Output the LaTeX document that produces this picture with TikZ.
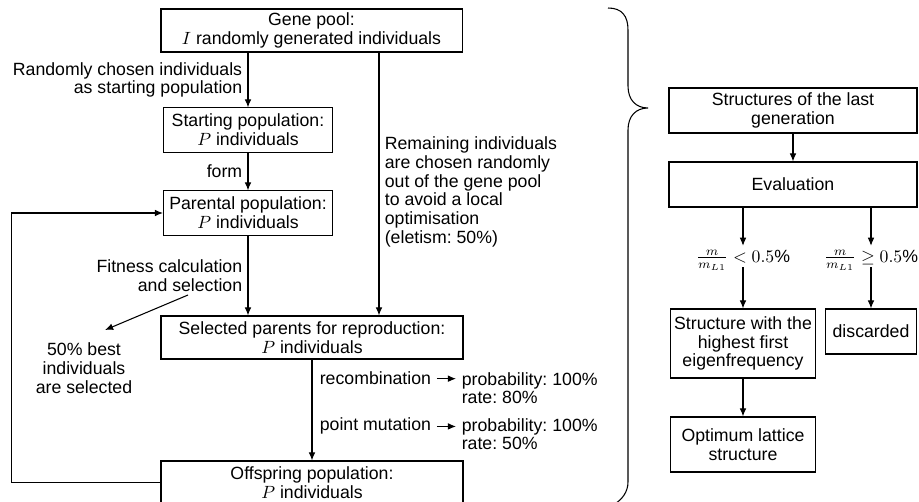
\documentclass[tikz,border=0pt]{standalone}
\usepackage{fontspec}
\setmainfont{Liberation Sans}
\usetikzlibrary{arrows.meta}
\frenchspacing

\begin{document}
\begin{tikzpicture}[
        x=0.565pt, y=-0.565pt,
        ->, >={Latex[length=4.6pt,width=3.8pt]}, line width=0.6pt,
        basebox/.style={draw, rectangle, align=center, inner sep=1pt, font=\fontsize{10}{10.6}\selectfont},
        note/.style={font=\fontsize{10}{10.6}\selectfont, inner sep=3pt}
    ]
        \useasboundingbox (0,0) rectangle (919,502);

        % 1. Genetic algorithm boxes (left column)
        \node[basebox, minimum width=170.1pt, minimum height=24.3pt] (gene) at (311.5,30.5) {
            Gene pool:\\ $I$ randomly generated individuals
        };
        \node[basebox, minimum width=95.5pt, minimum height=24.9pt] (start) at (248,130) {
            Starting population:\\ $P$ individuals
        };
        \node[basebox, minimum width=95.5pt, minimum height=24.9pt] (parent) at (248,213) {
            Parental population:\\ $P$ individuals
        };
        \node[basebox, minimum width=170.6pt, minimum height=24.3pt] (select) at (312,337.5) {
            Selected parents for reproduction:\\ $P$ individuals
        };
        \node[basebox, minimum width=170.6pt, minimum height=24.3pt] (offspring) at (312,482.5) {
            Offspring population:\\ $P$ individuals
        };

        % 2. Side notes
        \node[note, align=center] (selnote) at (84,368) {50\% best\\ individuals\\ are selected};
        \node[note, anchor=base west] (recomb) at (314,385) {recombination};
        \node[note, anchor=north west, align=left] (recprob) at (456,0 |- recomb.north) {probability: 100\%\\ rate: 80\%};
        \node[note, anchor=base west] (mutate) at (314,431) {point mutation};
        \node[note, anchor=north west, align=left] (mutprob) at (456,0 |- mutate.north) {probability: 100\%\\ rate: 50\%};

        \coordinate (remx) at (379,0);
        \coordinate (fitfrom) at (188,295);
        \coordinate (fitto) at (105,330);

        % 3. Connectors (left)
        \draw (gene.south -| start.north) -- node[left, note, align=right] {Randomly chosen individuals\\ as starting population} (start.north);
        \draw (start) -- node[left, note] {form} (parent);
        \draw (parent) -- node[left, note, align=right] {Fitness calculation\\ and selection} (parent.south |- select.north);
        \draw (gene.south -| remx) -- node[right, note, align=left, pos=0.53] {Remaining individuals\\ are chosen randomly\\ out of the gene pool\\ to avoid a local\\ optimisation\\ (eletism: 50\%)} (select.north -| remx);
        \draw (fitfrom) -- (fitto);
        \draw (select) -- (offspring);
        \draw (recomb.east) -- (recomb.east -| recprob.west);
        \draw (mutate.east) -- (mutate.east -| mutprob.west);
        \draw (offspring.west) -- ++(-149,0) |- (parent.west);

        % 4. Brace
        \draw[-] (608,8) .. controls (622,8) and (628,16) .. (628,30) -- (628,86)
            .. controls (628,100) and (636,108) .. (648,108)
            .. controls (636,108) and (628,116) .. (628,130) -- (628,482)
            .. controls (628,492) and (622,500) .. (613,505);

        % 5. Evaluation of the last generation (right column)
        \node[basebox, minimum width=140.1pt, minimum height=25.4pt] (laststruct) at (793,110.5) {
            Structures of the last\\ generation
        };
        \node[basebox, minimum width=140.1pt, minimum height=25.4pt] (evaluate) at (793,184.5) {Evaluation};
        \node[note, inner sep=2pt] (lowmass) at (743,260) {$\frac{m}{m_{L1}} < 0.5\%$};
        \node[note, inner sep=2pt] (highmass) at (871,260) {$\frac{m}{m_{L1}} \geq 0.5\%$};
        \node[basebox, minimum width=81.9pt, minimum height=39pt] (eigen) at (743,343.5) {
            Structure with the\\ highest first\\ eigenfrequency
        };
        \node[basebox, minimum width=50.9pt, minimum height=25.4pt] (discard) at (871,331.5) {discarded};
        \node[basebox, minimum width=81.9pt, minimum height=31.1pt] (optimum) at (743,444.5) {
            Optimum lattice\\ structure
        };

        \draw (laststruct) -- (evaluate);
        \draw (evaluate.south -| lowmass) -- (lowmass.north);
        \draw ([yshift=4pt]lowmass.south) -- (eigen);
        \draw (evaluate.south -| highmass) -- (highmass.north);
        \draw ([yshift=4pt]highmass.south) -- (discard);
        \draw (eigen) -- (optimum);

    \end{tikzpicture}
\end{document}
